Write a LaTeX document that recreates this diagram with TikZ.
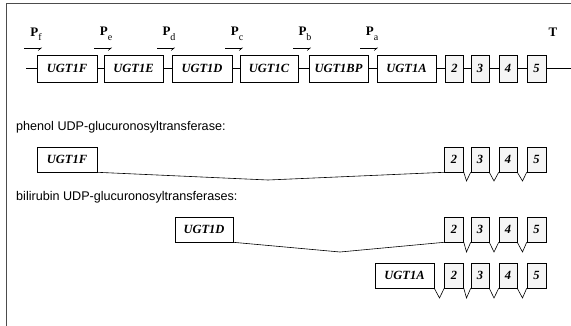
\documentclass[tikz,border=0pt]{standalone}
\usepackage{fontspec}
\setmainfont{Liberation Serif}
\newfontfamily\labsans{Liberation Sans}
\usetikzlibrary{arrows.meta}
\tikzset{
  gene/.style={draw, line width=0.6pt, fill=white, inner sep=0pt, minimum height=27pt,
    font=\fontsize{12.5}{12.5}\selectfont\bfseries\itshape},
  exon/.style={gene, fill=black!4, minimum width=18pt},
  sgene/.style={gene, minimum height=25pt},
  sexon/.style={exon, minimum height=25pt},
  wire/.style={line width=0.6pt},
  prom/.style={line width=0.6pt, -{Straight Barb[right,length=3pt,width=5pt]}},
  plab/.style={inner sep=0pt, font=\fontsize{13}{13}\selectfont},
  note/.style={inner sep=0pt, anchor=west, font=\labsans\fontsize{12.6}{12.6}\selectfont},
}
\newcommand{\Psub}[1]{\textbf{P}\raisebox{-4.5pt}{\fontsize{10}{10}\selectfont #1}}
\begin{document}
\begin{tikzpicture}[x=1pt,y=-1pt]
\useasboundingbox (0,0) rectangle (571,326);
% frame
\draw[line width=0.8pt, black!70] (6.5,326) -- (6.5,3) -- (571,3);
% main row
\coordinate (m0) at (26,68.5);
\coordinate (m1) at (571,68.5);
\node[gene, minimum width=60pt] (mf) at (67,68.5) {UGT1F};
\node[gene, minimum width=59pt] (me) at (133.5,68.5) {UGT1E};
\node[gene, minimum width=60pt] (md) at (202,68.5) {UGT1D};
\node[gene, minimum width=58pt] (mc) at (269,68.5) {UGT1C};
\node[gene, minimum width=59pt] (mbp) at (338.5,68.5) {UGT1BP};
\node[gene, minimum width=59pt] (ma) at (406.5,68.5) {UGT1A};
\node[exon] (m2) at (454.5,68.5) {2};
\node[exon] (m3) at (480,68.5) {3};
\node[exon] (m4) at (508,68.5) {4};
\node[exon, minimum width=19pt] (m5) at (536.5,68.5) {5};
\draw[wire] (m0) -- (mf.west) (mf.east) -- (me.west) (me.east) -- (md.west)
  (md.east) -- (mc.west) (mc.east) -- (mbp.west) (mbp.east) -- (ma.west)
  (ma.east) -- (m2.west) (m2.east) -- (m3.west) (m3.east) -- (m4.west)
  (m4.east) -- (m5.west) (m5.east) -- (m1);
% promoters
\foreach \n/\x/\s in {f/24/f, e/94/e, d/157/d, c/225/c, b/293/b, a/360/a}{
  \coordinate (p\n0) at (\x,48);
  \coordinate (p\n1) at (\x+18,48);
  \draw[prom] (p\n0) -- (p\n1);
  \node[plab] (pl\n) at (\x+12,34) {\Psub{\s}};
}
\node[plab, font=\fontsize{13}{13}\selectfont\bfseries] (tt) at (553,32) {T};
% phenol
\node[note] (n1) at (16,127) {phenol UDP-glucuronosyltransferase:};
\node[sgene, minimum width=60pt] (af) at (67,159.5) {UGT1F};
\node[sexon, minimum width=19pt] (a2) at (454,159.5) {2};
\node[sexon] (a3) at (480,159.5) {3};
\node[sexon] (a4) at (508,159.5) {4};
\node[sexon, minimum width=19pt] (a5) at (536.5,159.5) {5};
\coordinate (av1) at (268,180);
\coordinate (av2) at (466.5,181);
\coordinate (av3) at (494,181);
\coordinate (av4) at (522.5,181);
\draw[wire] (af.south east) -- (av1) -- (a2.south west)
  (a2.south east) -- (av2) -- (a3.south west)
  (a3.south east) -- (av3) -- (a4.south west)
  (a4.south east) -- (av4) -- (a5.south west);
% bilirubin
\node[note] (n2) at (16,197) {bilirubin UDP-glucuronosyltransferases:};
\node[sgene, minimum width=58pt] (bd) at (204,229.5) {UGT1D};
\node[sexon, minimum width=19pt] (b2) at (454,229.5) {2};
\node[sexon] (b3) at (480,229.5) {3};
\node[sexon] (b4) at (508,229.5) {4};
\node[sexon, minimum width=19pt] (b5) at (536.5,229.5) {5};
\coordinate (bv1) at (340,252);
\coordinate (bv2) at (466.5,252);
\coordinate (bv3) at (494,252);
\coordinate (bv4) at (522.5,252);
\draw[wire] (bd.south east) -- (bv1) -- (b2.south west)
  (b2.south east) -- (bv2) -- (b3.south west)
  (b3.south east) -- (bv3) -- (b4.south west)
  (b4.south east) -- (bv4) -- (b5.south west);
\node[sgene, minimum width=59pt] (ca) at (404.5,275.5) {UGT1A};
\node[sexon, minimum width=19pt] (c2) at (454,275.5) {2};
\node[sexon] (c3) at (480,275.5) {3};
\node[sexon] (c4) at (508,275.5) {4};
\node[sexon, minimum width=19pt] (c5) at (536.5,275.5) {5};
\coordinate (cv1) at (439.5,298);
\coordinate (cv2) at (466.5,298);
\coordinate (cv3) at (494,298);
\coordinate (cv4) at (522.5,298);
\draw[wire] (ca.south east) -- (cv1) -- (c2.south west)
  (c2.south east) -- (cv2) -- (c3.south west)
  (c3.south east) -- (cv3) -- (c4.south west)
  (c4.south east) -- (cv4) -- (c5.south west);
\end{tikzpicture}
\end{document}
